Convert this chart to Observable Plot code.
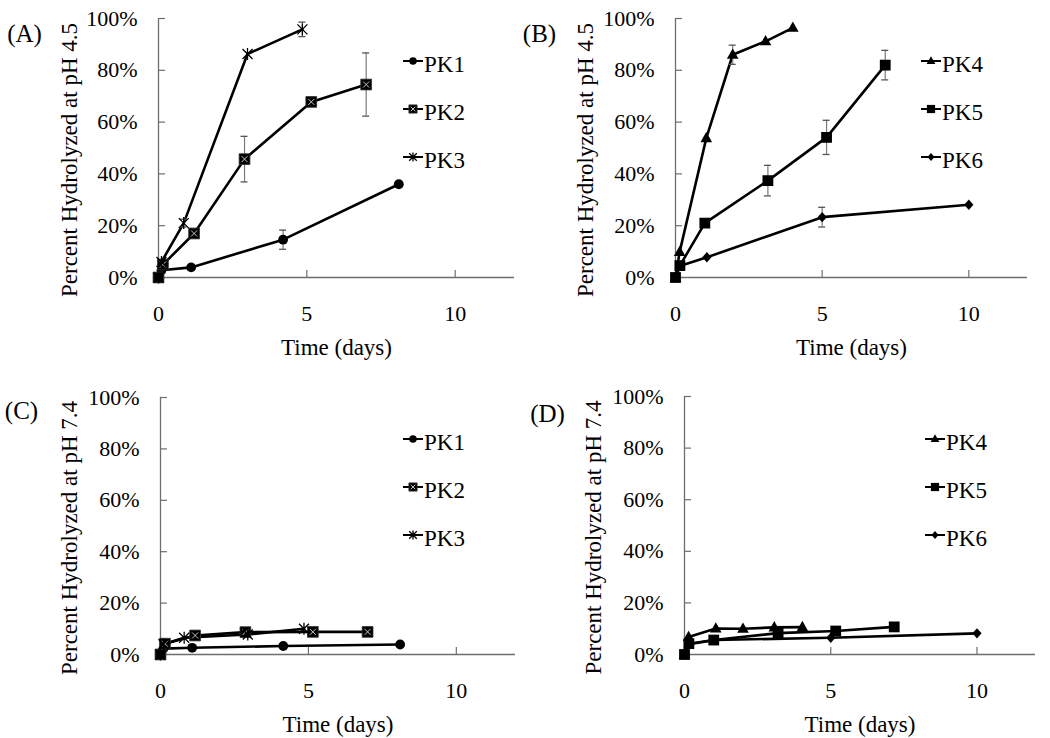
<!DOCTYPE html>
<html><head><meta charset="utf-8">
<script src="https://cdn.jsdelivr.net/npm/d3@7"></script>
<script src="https://cdn.jsdelivr.net/npm/@observablehq/plot@0.6"></script>
<style>
body{margin:0;background:#fff;}
#wrap{position:relative;width:1050px;height:738px;overflow:hidden;}
.panel{position:absolute;}
.panel svg, .panel svg text{font-family:"Liberation Serif","Times New Roman",serif !important;}
</style></head><body><div id="wrap"></div>
<script>
// ---------- tick labels & axis titles ----------
const xTicks = [0, 5, 10];
const yTicks = [0, 20, 40, 60, 80, 100];
const yTickLabels = ["0%", "20%", "40%", "60%", "80%", "100%"];
const xTitle = "Time (days)";
const yTitleAcid = "Percent Hydrolyzed at pH 4.5";
const yTitleNeutral = "Percent Hydrolyzed at pH 7.4";
const panelLetters = ["(A)", "(B)", "(C)", "(D)"];

// ---------- Panel A: pH 4.5 (time in days, % hydrolyzed, error = ±) ----------
const a_pk1_t = [0, 0.1, 1.1, 4.2, 8.1];
const a_pk1_v = [0, 2.8, 3.9, 14.6, 36.0];
const a_pk1_e = [0, 0, 0, 3.7, 0];
const a_pk2_t = [0, 0.15, 1.2, 2.9, 5.15, 7.0];
const a_pk2_v = [0, 5.0, 17.0, 45.7, 67.8, 74.5];
const a_pk2_e = [0, 0, 0, 8.8, 0, 12.2];
const a_pk3_t = [0, 0.1, 0.85, 3.0, 4.85];
const a_pk3_v = [0, 6.0, 21.0, 86.3, 95.8];
const a_pk3_e = [0, 0, 1.5, 0, 2.8];

// ---------- Panel B: pH 4.5 ----------
const b_pk4_t = [0, 0.14, 1.05, 1.95, 3.07, 4.0];
const b_pk4_v = [0, 9.8, 53.8, 86.0, 91.2, 96.4];
const b_pk4_e = [0, 0, 0, 3.7, 0, 0];
const b_pk5_t = [0, 0.15, 1.0, 3.15, 5.15, 7.15];
const b_pk5_v = [0, 4.6, 21.0, 37.4, 54.1, 82.0];
const b_pk5_e = [0, 0, 0, 5.9, 6.6, 5.7];
const b_pk6_t = [0, 0.15, 1.07, 5.0, 10.0];
const b_pk6_v = [0, 4.4, 7.8, 23.3, 28.1];
const b_pk6_e = [0, 0, 0, 3.8, 0];

// ---------- Panel C: pH 7.4 ----------
const c_pk1_t = [0, 0.1, 1.07, 4.15, 8.1];
const c_pk1_v = [0, 2.3, 2.6, 3.3, 3.9];
const c_pk2_t = [0, 0.15, 1.17, 2.87, 5.15, 7.0];
const c_pk2_v = [0, 4.2, 7.4, 8.7, 8.8, 8.8];
const c_pk3_t = [0, 0.1, 0.8, 2.95, 4.85];
const c_pk3_v = [0, 4.0, 6.5, 7.8, 10.0];

// ---------- Panel D: pH 7.4 ----------
const d_pk4_t = [0, 0.14, 1.07, 2.0, 3.07, 4.03];
const d_pk4_v = [0, 6.8, 10.1, 10.0, 10.5, 10.6];
const d_pk5_t = [0, 0.15, 1.0, 3.2, 5.17, 7.17];
const d_pk5_v = [0, 4.2, 5.6, 8.3, 9.1, 10.7];
const d_pk6_t = [0, 0.15, 1.05, 5.0, 10.0];
const d_pk6_v = [0, 4.0, 5.6, 6.5, 8.2];

// ---------- marker shapes ----------
function sc(size){ return Math.sqrt(size/Math.PI)/5; }
const symCircle = {draw(c,size){const s=sc(size),R=4.9*s;c.moveTo(R,0);c.arc(0,0,R,0,2*Math.PI);c.closePath();}};
const symSquare = {draw(c,size){const s=sc(size),h=5.4*s;c.moveTo(-h,-h);c.lineTo(h,-h);c.lineTo(h,h);c.lineTo(-h,h);c.closePath();}};
const symX = {draw(c,size){const s=sc(size),h=3.0*s;c.moveTo(-h,-h);c.lineTo(h,h);c.moveTo(h,-h);c.lineTo(-h,h);}};
const symAster = {draw(c,size){const s=sc(size),h=5*s;c.moveTo(-h,-h);c.lineTo(h,h);c.moveTo(h,-h);c.lineTo(-h,h);c.moveTo(0,-6*s);c.lineTo(0,6*s);}};
const symTri = {draw(c,size){const s=sc(size);c.moveTo(0,-6.3*s);c.lineTo(5.8*s,4*s);c.lineTo(-5.8*s,4*s);c.closePath();}};
const symDia = {draw(c,size){const s=sc(size);c.moveTo(0,-5.2*s);c.lineTo(4.6*s,0);c.lineTo(0,5.2*s);c.lineTo(-4.6*s,0);c.closePath();}};

const styles = {
  PK1: [{symbol: symCircle, fill: "black", stroke: "none"}],
  PK2: [{symbol: symSquare, fill: "black", stroke: "#333333", strokeWidth: 0.8}, {symbol: symX, fill: "none", stroke: "#d8d8d8", strokeWidth: 0.9}],
  PK3: [{symbol: symAster, fill: "none", stroke: "black", strokeWidth: 1.3}],
  PK4: [{symbol: symTri, fill: "black", stroke: "none"}],
  PK5: [{symbol: symSquare, fill: "black", stroke: "none"}],
  PK6: [{symbol: symDia, fill: "black", stroke: "none"}]
};

const panels = [
  {letter: panelLetters[0], ytitle: yTitleAcid, left: 0, top: 0, width: 520, height: 370,
   ml: 158, mr: 6, mt: 18, mb: 93, ytdx: -89, ltr: [-134, 15], leg: [413, 61],
   series: [{name: "PK1", t: a_pk1_t, v: a_pk1_v, e: a_pk1_e}, {name: "PK2", t: a_pk2_t, v: a_pk2_v, e: a_pk2_e}, {name: "PK3", t: a_pk3_t, v: a_pk3_v, e: a_pk3_e}]},
  {letter: panelLetters[1], ytitle: yTitleAcid, left: 520, top: 0, width: 530, height: 370,
   ml: 155, mr: 23, mt: 18, mb: 93, ytdx: -90, ltr: [-136, 15], leg: [411, 61],
   series: [{name: "PK4", t: b_pk4_t, v: b_pk4_v, e: b_pk4_e}, {name: "PK5", t: b_pk5_t, v: b_pk5_v, e: b_pk5_e}, {name: "PK6", t: b_pk6_t, v: b_pk6_v, e: b_pk6_e}]},
  {letter: panelLetters[2], ytitle: yTitleNeutral, left: 0, top: 370, width: 520, height: 368,
   ml: 160, mr: 5, mt: 27, mb: 84, ytdx: -91, ltr: [-139, 13], leg: [413, 69],
   series: [{name: "PK1", t: c_pk1_t, v: c_pk1_v}, {name: "PK2", t: c_pk2_t, v: c_pk2_v}, {name: "PK3", t: c_pk3_t, v: c_pk3_v}]},
  {letter: panelLetters[3], ytitle: yTitleNeutral, left: 520, top: 370, width: 530, height: 368,
   ml: 164, mr: 15, mt: 26, mb: 84, ytdx: -91, ltr: [-137, 17], leg: [415, 69],
   series: [{name: "PK4", t: d_pk4_t, v: d_pk4_v}, {name: "PK5", t: d_pk5_t, v: d_pk5_v}, {name: "PK6", t: d_pk6_t, v: d_pk6_v}]}
];

const axisColor = "#6e6e6e";
const wrap = document.getElementById("wrap");

for (const p of panels) {
  const rows = p.series.flatMap(s => s.t.map((t, i) => ({name: s.name, t, v: s.v[i], e: s.e ? s.e[i] : 0})));
  const errs = rows.filter(d => d.e > 0);
  const dotMarks = [];
  for (const s of p.series) {
    const sub = rows.filter(d => d.name === s.name);
    for (const st of styles[s.name]) dotMarks.push(Plot.dot(sub, {x: "t", y: "v", r: 5, ...st}));
  }
  const chart = Plot.plot({
    width: p.width, height: p.height,
    marginLeft: p.ml, marginRight: p.mr, marginTop: p.mt, marginBottom: p.mb,
    style: {fontSize: "22px", background: "#fff", color: "#000"},
    x: {domain: [0, 12]},
    y: {domain: [0, 100]},
    marks: [
      Plot.axisX({ticks: xTicks, tickSize: 0, tickPadding: 28, label: null, fontSize: 22}),
      Plot.axisY({ticks: yTicks, tickSize: 0, tickPadding: 21, label: null, fontSize: 22,
                  tickFormat: d => yTickLabels[yTicks.indexOf(d)]}),
      Plot.ruleY([0], {x1: 0, x2: 12, stroke: axisColor, strokeWidth: 1.3}),
      Plot.ruleX([0], {y1: 0, y2: 100, stroke: axisColor, strokeWidth: 1.3}),
      Plot.ruleX(xTicks.filter(d => d > 0), {x: d => d, y1: 0, y2: 0, insetTop: -7, stroke: axisColor, strokeWidth: 1.2}),
      Plot.ruleY(yTicks, {y: d => d, x1: 0, x2: 0, insetRight: -7, stroke: axisColor, strokeWidth: 1.2}),
      Plot.line(rows, {x: "t", y: "v", z: "name", stroke: "black", strokeWidth: 2.6, curve: "linear"}),
      Plot.ruleX(errs, {x: "t", y1: d => d.v - d.e, y2: d => d.v + d.e, stroke: "#7a7a7a", strokeWidth: 1.2}),
      Plot.ruleY(errs, {y: d => d.v + d.e, x1: "t", x2: "t", insetLeft: -3.5, insetRight: -3.5, stroke: "#555", strokeWidth: 1.3}),
      Plot.ruleY(errs, {y: d => d.v - d.e, x1: "t", x2: "t", insetLeft: -3.5, insetRight: -3.5, stroke: "#555", strokeWidth: 1.3}),
      ...dotMarks,
      Plot.text([xTitle], {frameAnchor: "bottom", dy: 70, text: d => d, fontSize: 23, textAnchor: "middle", lineAnchor: "middle"}),
      Plot.text([p.ytitle], {frameAnchor: "left", dx: p.ytdx, dy: 12, rotate: -90, text: d => d, fontSize: 23, textAnchor: "middle", lineAnchor: "middle"}),
      Plot.text([p.letter], {frameAnchor: "top-left", dx: p.ltr[0], dy: p.ltr[1], text: d => d, fontSize: 25, textAnchor: "middle", lineAnchor: "middle"})
    ]
  });
  const div = document.createElement("div");
  div.className = "panel";
  div.style.left = p.left + "px";
  div.style.top = p.top + "px";
  div.appendChild(chart);
  wrap.appendChild(div);

  // legend
  const svg = d3.select(chart);
  const g = svg.append("g").attr("class", "legend");
  p.series.forEach((s, i) => {
    const cx = p.leg[0], cy = p.leg[1] + i * 48;
    g.append("line").attr("x1", cx - 10).attr("x2", cx + 10).attr("y1", cy).attr("y2", cy)
      .attr("stroke", "black").attr("stroke-width", 2);
    for (const st of styles[s.name]) {
      const path = d3.path();
      st.symbol.draw(path, 3.8 * 3.8 * Math.PI);
      g.append("path").attr("d", path.toString()).attr("transform", `translate(${cx},${cy})`)
        .attr("fill", st.fill).attr("stroke", st.stroke === "none" ? "none" : st.stroke)
        .attr("stroke-width", st.strokeWidth || 1);
    }
    g.append("text").attr("x", cx + 11).attr("y", cy + 3).attr("dominant-baseline", "central")
      .attr("text-anchor", "start").attr("font-size", 23).attr("fill", "black").text(s.name);
  });
}
</script></body></html>
